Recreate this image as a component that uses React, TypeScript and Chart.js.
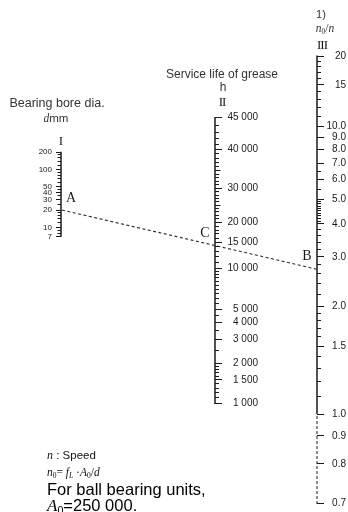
import React, { useEffect, useRef } from 'react';
import { Chart, registerables } from 'chart.js';

Chart.register(...registerables);

// ---------------- Data ----------------
// Axis I : bearing bore diameter d (mm)
const boreTicks = [200, 100, 50, 40, 30, 20, 10, 7];
const boreTickLabels = ['200', '100', '50', '40', '30', '20', '10', '7'];
const boreMinorTicks = [180, 160, 140, 120, 90, 80, 70, 60, 45, 35, 25, 18, 16, 14, 12, 9, 8];
const boreAxisSpan = [200, 7];

// Axis II : service life of grease h
const lifeTicks = [45000, 40000, 30000, 20000, 15000, 10000, 5000, 4000, 3000, 2000, 1500, 1000];
const lifeTickLabels = ['45 000', '40 000', '30 000', '20 000', '15 000', '10 000', '5 000', '4 000', '3 000', '2 000', '1 500', '1 000'];
const lifeMidTicks = [35000, 25000];
const lifeMinorTicks = [
  44000, 43000, 42000, 41000,
  39000, 38000, 37000, 36000, 34000, 33000, 32000, 31000,
  29000, 28000, 27000, 26000, 24000, 23000, 22000, 21000,
  19000, 18000, 17000, 16000,
  14000, 13000, 12000, 11000,
  9500, 9000, 8500, 8000, 7500, 7000, 6500, 6000, 5500,
  4500, 3500, 2500,
  1900, 1800, 1700, 1600,
  1400, 1300, 1200, 1100,
];
const lifeAxisSpan = [45000, 1000];

// Axis III : n0/n
const ratioTicks = [20, 15, 10, 9, 8, 7, 6, 5, 4, 3, 2, 1.5, 1.0, 0.9, 0.8, 0.7];
const ratioTickLabels = ['20', '15', '10.0', '9.0', '8.0', '7.0', '6.0', '5.0', '4.0', '3.0', '2.0', '1.5', '1.0', '0.9', '0.8', '0.7'];
const ratioMinorTicks = [
  19, 18, 17, 16, 14, 13, 12, 11, 6.5, 5.5,
  4.9, 4.8, 4.7, 4.6, 4.5, 4.4, 4.3, 4.2, 4.1,
  3.8, 3.6, 3.4, 3.2, 2.8, 2.6, 2.4, 2.2,
  1.9, 1.8, 1.7, 1.6, 1.4, 1.3, 1.2, 1.1,
];
const ratioSolidSpan = [20, 1.0];
const ratioDashedSpan = [1.0, 0.7];

// Example reading (line A - C - B)
const exampleBore = 20;
const exampleRatio = 2.7;

// ---------------- Scale functions (nomogram graduations) ----------------
const fBore = (d: number) => Math.log10(d);
const LIFE_T = 50000;
const LIFE_K = 0.669;
const fLife = (t: number) => Math.log10(t) - LIFE_K * Math.log10(1 - (t / LIFE_T) ** 2);
const fRatio = (x: number) => Math.log10(x - 0.5);

// ---------------- Layout / style ----------------
const W = 348;
const H = 512;
const AREA_TOP = 40;
const AREA_BOTTOM = 510;
const boreCal = { p0: 285.2, s: 57.8 };
const lifeCal = { p0: 805.2, s: 133.9 };
const ratioCal = { p0: 346.3, s: 225 };
const rangeOf = (cal: { p0: number; s: number }) => ({
  min: (cal.p0 - AREA_BOTTOM) / cal.s,
  max: (cal.p0 - AREA_TOP) / cal.s,
});

const INK = '#1a1a1a';
const TEXT = '#333333';
const SANS = '"Liberation Sans", Arial, Helvetica, sans-serif';
const SERIF = '"Liberation Serif", "Times New Roman", serif';

type AxisSpec = {
  position: 'left' | 'right';
  weight: number;
  range: { min: number; max: number };
  f: (v: number) => number;
  values: number[];
  labels?: string[];
  tickLength: number;
  width: number;
  fontSize?: number;
  padding?: number;
  crossAlign?: 'near' | 'far' | 'center';
};

function makeAxis(a: AxisSpec) {
  return {
    type: 'linear',
    axis: 'y',
    position: a.position,
    weight: a.weight,
    min: a.range.min,
    max: a.range.max,
    bounds: 'data',
    border: { display: false },
    grid: {
      display: a.values.length > 0,
      drawOnChartArea: false,
      drawTicks: true,
      tickLength: a.tickLength,
      tickWidth: 1,
      tickColor: INK,
      color: INK,
      lineWidth: 1,
    },
    ticks: a.labels
      ? {
          display: true,
          autoSkip: false,
          padding: a.padding ?? 4,
          crossAlign: a.crossAlign ?? 'near',
          color: INK,
          font: { family: SANS, size: a.fontSize ?? 10 },
          callback: (_v: number, i: number) => a.labels![i],
        }
      : { display: false, autoSkip: false },
    afterBuildTicks: (s: any) => {
      s.ticks = a.values.map((v) => ({ value: a.f(v) }));
    },
    afterFit: (s: any) => {
      s.width = a.width;
      s.paddingTop = 0;
      s.paddingBottom = 0;
      s.paddingLeft = 0;
      s.paddingRight = 0;
    },
  };
}

const nomogramPlugin = {
  id: 'nomogram',
  afterDraw(chart: any) {
    const { ctx, scales } = chart;
    const bore = scales.bore;
    const life = scales.life;
    const ratio = scales.ratio;
    const xI = bore.right;
    const xII = life.left;
    const xIII = ratio.left;
    const py = (scale: any, f: (v: number) => number, v: number) => scale.getPixelForValue(f(v));

    ctx.save();
    ctx.strokeStyle = INK;
    const seg = (x: number, y1: number, y2: number, dash: number[], lw: number) => {
      ctx.setLineDash(dash);
      ctx.lineWidth = lw;
      ctx.beginPath();
      ctx.moveTo(x, y1);
      ctx.lineTo(x, y2);
      ctx.stroke();
    };
    seg(xI, py(bore, fBore, boreAxisSpan[0]) - 0.5, py(bore, fBore, boreAxisSpan[1]) + 0.5, [], 1.5);
    seg(xII, py(life, fLife, lifeAxisSpan[0]) - 0.5, py(life, fLife, lifeAxisSpan[1]) + 0.5, [], 1.5);
    seg(xIII, py(ratio, fRatio, ratioSolidSpan[0]) - 0.5, py(ratio, fRatio, ratioSolidSpan[1]), [], 1.5);
    seg(xIII, py(ratio, fRatio, ratioDashedSpan[0]) + 2, py(ratio, fRatio, ratioDashedSpan[1]) + 0.5, [3, 2], 1);

    // example line A -> B, crossing axis II at C
    const ax = xI + 1;
    const ay = py(bore, fBore, exampleBore);
    const bx = xIII;
    const by = py(ratio, fRatio, exampleRatio);
    ctx.setLineDash([3, 2.5]);
    ctx.lineWidth = 1.1;
    ctx.strokeStyle = '#2a2a2a';
    ctx.beginPath();
    ctx.moveTo(ax, ay);
    ctx.lineTo(bx, by);
    ctx.stroke();
    const cy = ay + ((by - ay) * (xII - ax)) / (bx - ax);

    ctx.setLineDash([]);
    ctx.fillStyle = INK;
    ctx.font = `14px ${SERIF}`;
    ctx.textAlign = 'center';
    ctx.textBaseline = 'middle';
    ctx.fillText('A', ax + 9, ay - 12);
    ctx.fillText('C', xII - 10, cy - 12);
    ctx.fillText('B', bx - 10, by - 13);
    ctx.restore();
  },
};

const Txt = ({ x, y, align = 'center', style, children }: any) => (
  <div
    style={{
      position: 'absolute',
      left: x,
      top: y,
      transform: align === 'center' ? 'translate(-50%, -50%)' : 'translate(0, -50%)',
      whiteSpace: 'nowrap',
      lineHeight: 1,
      color: TEXT,
      fontFamily: SANS,
      ...style,
    }}
  >
    {children}
  </div>
);

const Sub = ({ children }: any) => (
  <span style={{ fontSize: '0.65em', position: 'relative', top: '0.3em' }}>{children}</span>
);

export default function App() {
  const ref = useRef<HTMLCanvasElement | null>(null);

  useEffect(() => {
    if (!ref.current) return;
    const chart = new Chart(ref.current, {
      type: 'scatter',
      data: { datasets: [] },
      options: {
        responsive: false,
        animation: false,
        events: [],
        layout: { padding: { left: 21, right: 2, top: AREA_TOP, bottom: H - AREA_BOTTOM } },
        plugins: { legend: { display: false }, tooltip: { enabled: false }, title: { display: false } },
        scales: {
          x: { type: 'linear', display: false, min: 0, max: 1 },
          y: { type: 'linear', display: false },
          boreMinor: makeAxis({
            position: 'left', weight: 0, range: rangeOf(boreCal), f: fBore,
            values: boreMinorTicks, tickLength: 3.5, width: 0,
          }),
          bore: makeAxis({
            position: 'left', weight: 1, range: rangeOf(boreCal), f: fBore,
            values: boreTicks, labels: boreTickLabels, tickLength: 5, width: 40,
            fontSize: 8, padding: 4, crossAlign: 'near',
          }),
          lifeMinor: makeAxis({
            position: 'right', weight: 0, range: rangeOf(lifeCal), f: fLife,
            values: lifeMinorTicks, tickLength: 4, width: 0,
          }),
          lifeMid: makeAxis({
            position: 'right', weight: 1, range: rangeOf(lifeCal), f: fLife,
            values: lifeMidTicks, tickLength: 5.5, width: 0,
          }),
          life: makeAxis({
            position: 'right', weight: 2, range: rangeOf(lifeCal), f: fLife,
            values: lifeTicks, labels: lifeTickLabels, tickLength: 7, width: 43,
            fontSize: 10, padding: 5, crossAlign: 'far',
          }),
          gap: makeAxis({
            position: 'right', weight: 3, range: rangeOf(lifeCal), f: fLife,
            values: [], tickLength: 0, width: 59,
          }),
          ratioMinor: makeAxis({
            position: 'right', weight: 4, range: rangeOf(ratioCal), f: fRatio,
            values: ratioMinorTicks, tickLength: 4, width: 0,
          }),
          ratio: makeAxis({
            position: 'right', weight: 5, range: rangeOf(ratioCal), f: fRatio,
            values: ratioTicks, labels: ratioTickLabels, tickLength: 7, width: 29,
            fontSize: 10, padding: 3, crossAlign: 'far',
          }),
        } as any,
      },
      plugins: [nomogramPlugin],
    } as any);
    return () => chart.destroy();
  }, []);

  return (
    <div style={{ position: 'fixed', left: 0, top: 0, width: W, height: H, background: '#fff' }}>
      <canvas ref={ref} width={W} height={H} style={{ position: 'absolute', left: 0, top: 0, width: W, height: H }} />

      {/* Axis I title */}
      <Txt x={57} y={103} style={{ fontSize: 12.5 }}>Bearing bore dia.</Txt>
      <Txt x={56} y={119} style={{ fontSize: 11.5 }}>
        <i style={{ fontFamily: SERIF }}>d</i>mm
      </Txt>
      <Txt x={61} y={140} style={{ fontSize: 13, fontFamily: SERIF, color: INK }}>I</Txt>

      {/* Axis II title */}
      <Txt x={222} y={74} style={{ fontSize: 12 }}>Service life of grease</Txt>
      <Txt x={223} y={87} style={{ fontSize: 12 }}>h</Txt>
      <Txt x={222} y={101} style={{ fontSize: 13, fontFamily: SERIF, color: INK, letterSpacing: -1 }}>II</Txt>

      {/* Axis III title */}
      <Txt x={321} y={14} style={{ fontSize: 11 }}>1)</Txt>
      <Txt x={325} y={29} style={{ fontSize: 11.5, fontFamily: SERIF }}>
        <i>n</i><Sub>0</Sub>/<i>n</i>
      </Txt>
      <Txt x={322} y={44} style={{ fontSize: 13, fontFamily: SERIF, color: INK, letterSpacing: -1 }}>III</Txt>

      {/* Notes */}
      <Txt x={47} y={455} align="left" style={{ fontSize: 11.5, color: '#111' }}>
        <i style={{ fontFamily: SERIF, fontSize: 12 }}>n</i>
        <span> : Speed</span>
      </Txt>
      <Txt x={47} y={473} align="left" style={{ fontSize: 11.5, fontFamily: SERIF, color: '#111' }}>
        <i>n</i><Sub>0</Sub>= <i>f</i><Sub><i>L</i></Sub> ·<i>A</i><Sub>0</Sub>/<i>d</i>
      </Txt>
      <Txt x={47} y={489} align="left" style={{ fontSize: 16.5, color: '#000' }}>For ball bearing units,</Txt>
      <Txt x={47} y={505} align="left" style={{ fontSize: 16.5, color: '#000' }}>
        <i style={{ fontFamily: SERIF, fontSize: 17 }}>A</i><Sub>0</Sub>=250 000.
      </Txt>
    </div>
  );
}
